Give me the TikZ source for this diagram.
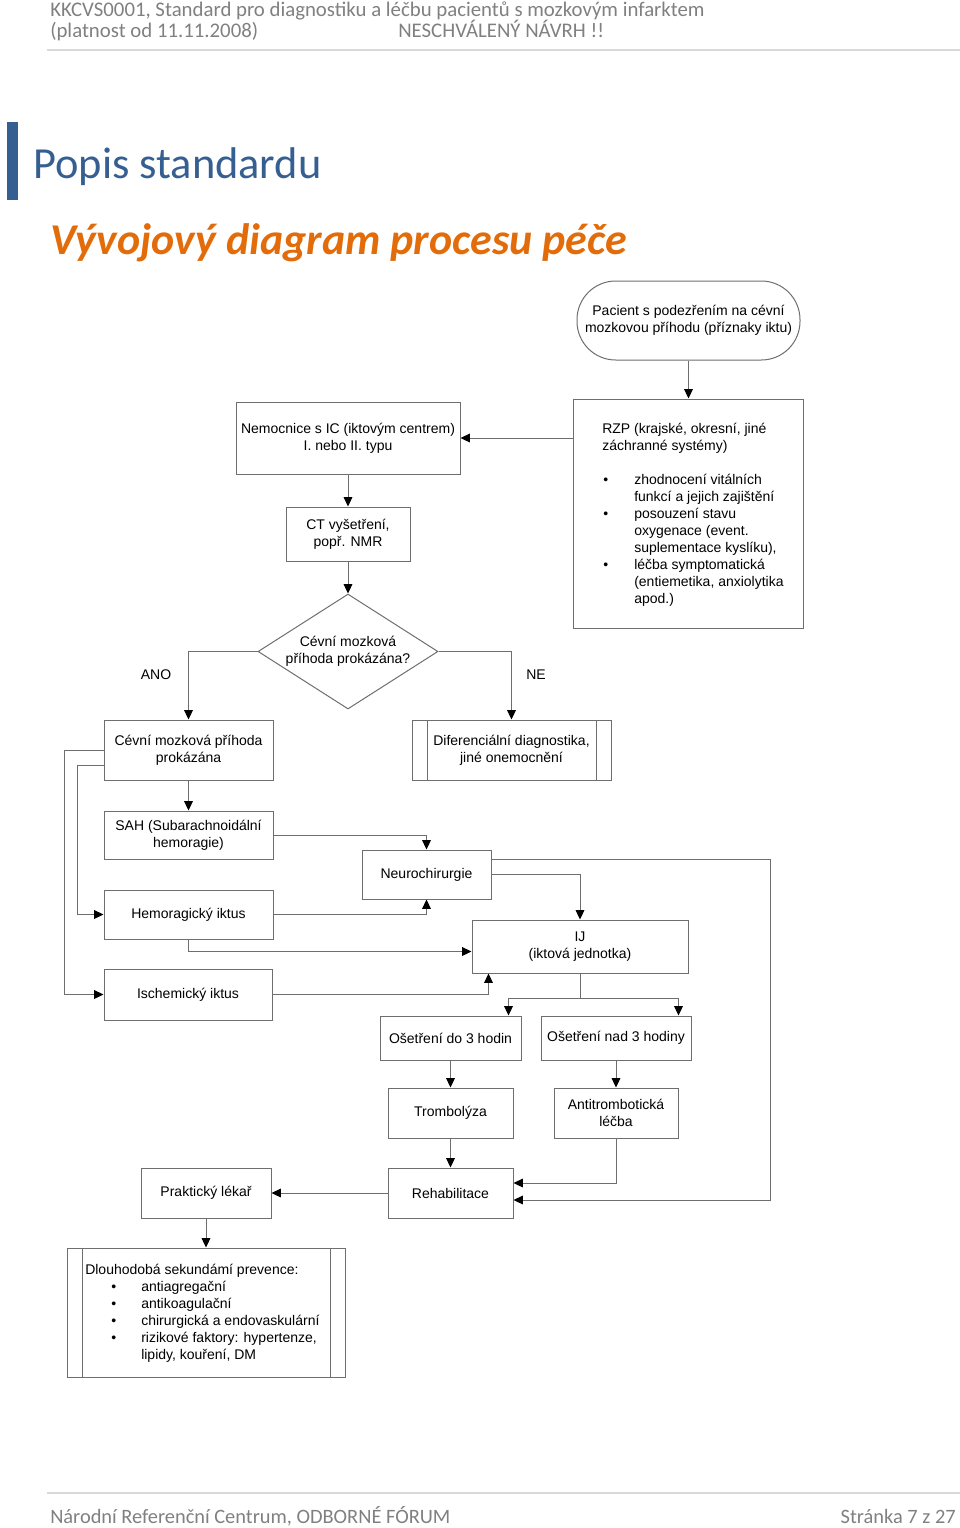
\documentclass[tikz,border=0pt]{standalone}
\usepackage{fontspec}
\setmainfont{Liberation Sans}
\newfontfamily\calibri{Carlito}
\definecolor{nrcBlue}{RGB}{54,95,145}
\definecolor{nrcOrange}{RGB}{227,108,10}
\definecolor{nrcGrey}{RGB}{128,128,128}
\definecolor{nrcRule}{RGB}{217,217,217}
\definecolor{nrcLine}{RGB}{110,110,110}
\usetikzlibrary{arrows.meta,shapes.geometric,calc}
\newcommand\diafont{\fontsize{10.5}{12.75}\selectfont}

\begin{document}
\begin{tikzpicture}[x=0.75pt, y=-0.75pt,
    box/.style={rectangle, draw=nrcLine, line width=0.75pt, font=\diafont,
                align=center, inner sep=0pt},
    sz/.style 2 args={minimum width=#1*0.75pt, minimum height=#2*0.75pt},
    term/.style={box, rounded corners=29pt},
    decision/.style={diamond, draw=nrcLine, line width=0.75pt, font=\diafont,
                     align=center, inner sep=0pt, aspect=1.56},
    subproc/.style={box, path picture={
        \draw[nrcLine, line width=0.75pt]
          ([xshift=11.25pt]path picture bounding box.north west) --
          ([xshift=11.25pt]path picture bounding box.south west)
          ([xshift=-11.25pt]path picture bounding box.north east) --
          ([xshift=-11.25pt]path picture bounding box.south east);}},
    txt/.style={font=\diafont, align=left, inner sep=0pt},
    arr/.style={draw=nrcLine, line width=0.75pt,
                -{Triangle[length=7pt,width=6.5pt,color=black]}},
    hdr/.style={font=\calibri\fontsize{15.3}{18}\selectfont, text=nrcGrey, inner sep=0pt}
  ]
  \useasboundingbox (0,0) rectangle (960,1528);

  % page header and footer
  \node[hdr, anchor=base west, font=\calibri\fontsize{15.6}{18}\selectfont] (hd1) at (50,16)
    {KKCVS0001, Standard pro diagnostiku a léčbu pacientů s mozkovým infarktem};
  \node[hdr, anchor=base west, font=\calibri\fontsize{15.6}{18}\selectfont] (hd2) at (50,37)
    {(platnost od 11.11.2008)};
  \node[hdr, anchor=base west, font=\calibri\fontsize{15.6}{18}\selectfont] (hd3) at (398,37)
    {NESCHVÁLENÝ NÁVRH !!};
  \draw[nrcRule, line width=1.5pt] (47,50) -- (960,50);
  \draw[nrcRule, line width=1.5pt] (47,1493) -- (960,1493);
  \node[hdr, anchor=base west] (ft1) at (50,1523) {Národní Referenční Centrum, ODBORNÉ FÓRUM};
  \node[hdr, anchor=base east] (ft2) at (956,1523) {Stránka 7 z 27};

  % titles
  \fill[nrcBlue] (7,122) rectangle (18,200);
  \node[anchor=base west, inner sep=0pt, text=nrcBlue,
        font=\calibri\fontsize{33.3}{40}\selectfont] (title) at (33,178) {Popis standardu};
  \node[anchor=base west, inner sep=0pt, text=nrcOrange,
        font=\calibri\bfseries\itshape\fontsize{33}{40}\selectfont] (subtitle) at (50,254)
    {Vývojový diagram procesu péče};

  % flowchart
  \node[term, sz={223}{79}]      (pac)   at (688.5,320.5) {Pacient s podezřením na cévní\\mozkovou příhodu (příznaky iktu)};
  \node[box, sz={230}{229}]      (rzp)   at (688,513.5) {};
  \node[txt, anchor=north west]  (rzph)  at (602,423) {RZP (krajské, okresní, jiné\\záchranné systémy)};
  \node[txt, anchor=north west]  (rzpl)  at (603,474)
    {\makebox[23.25pt][l]{\textbullet}zhodnocení vitálních\\
     \hspace*{23.25pt}funkcí a jejich zajištění\\
     \makebox[23.25pt][l]{\textbullet}posouzení stavu\\
     \hspace*{23.25pt}oxygenace (event.\\
     \hspace*{23.25pt}suplementace kyslíku),\\
     \makebox[23.25pt][l]{\textbullet}léčba symptomatická\\
     \hspace*{23.25pt}(entiemetika, anxiolytika\\
     \hspace*{23.25pt}apod.)};
  \node[box, sz={224}{72}]       (nem)   at (348,438) {Nemocnice s IC (iktovým centrem)\\I. nebo II. typu};
  \node[box, sz={124}{54}]       (ct)    at (348,534) {CT vyšetření,\\popř. NMR};
  \node[decision, sz={180}{115}] (dec)   at (348,651.5) {Cévní mozková\\příhoda prokázána?};
  \node[txt]                     (ano)   at (156,675) {ANO};
  \node[txt]                     (ne)    at (536,675) {NE};
  \node[box, sz={169}{60}]       (cmp)   at (188.5,750) {Cévní mozková příhoda\\prokázána};
  \node[subproc, sz={199}{60}]   (dif)   at (511.5,750) {Diferenciální diagnostika,\\jiné onemocnění};
  \node[box, sz={169}{48}]       (sah)   at (188.5,835) {SAH (Subarachnoidální\\hemoragie)};
  \node[box, sz={129}{49}]       (neu)   at (426.5,874.5) {Neurochirurgie};
  \node[box, sz={169}{49}]       (hem)   at (188.5,914.5) {Hemoragický iktus};
  \node[box, sz={216}{53}]       (ij)    at (580,946.5) {IJ\\(iktová jednotka)};
  \node[box, sz={168}{51}]       (isch)  at (188,994.5) {Ischemický iktus};
  \node[box, sz={141}{44}]       (do3)   at (450.5,1038) {Ošetření do 3 hodin};
  \node[box, sz={150}{44}]       (nad3)  at (616,1038) {Ošetření nad 3 hodiny};
  \node[box, sz={125}{50}]       (trom)  at (450.5,1113) {Trombolýza};
  \node[box, sz={124}{50}]       (anti)  at (616,1113) {Antitrombotická\\léčba};
  \node[box, sz={125}{50}]       (reh)   at (450.5,1193) {Rehabilitace};
  \node[box, sz={130}{50}]       (prak)  at (206,1193) {Praktický lékař};
  \node[subproc, sz={278}{129}]  (dlp)   at (206,1312.5) {};
  \node[txt, anchor=north west]  (dlpt)  at (85,1264)
    {Dlouhodobá sekundámí prevence:\\
     \hspace*{19.5pt}\makebox[22.5pt][l]{\textbullet}antiagregační\\
     \hspace*{19.5pt}\makebox[22.5pt][l]{\textbullet}antikoagulační\\
     \hspace*{19.5pt}\makebox[22.5pt][l]{\textbullet}chirurgická a endovaskulární\\
     \hspace*{19.5pt}\makebox[22.5pt][l]{\textbullet}rizikové faktory: hypertenze,\\
     \hspace*{42pt}lipidy, kouření, DM};

  \draw[arr] (pac.south) -- (pac.south |- rzp.north);
  \draw[arr] (rzp.west |- nem.east) -- (nem.east);
  \draw[arr] (nem.south) -- (ct.north);
  \draw[arr] (ct.south) -- (dec.north);
  \draw[arr] (dec.west) -| (cmp.north);
  \draw[arr] (dec.east) -| (dif.north);
  \draw[arr] (cmp.south) -- (sah.north);
  \draw[arr] (cmp.west) -- ++(-39,0) |- (isch.west);
  \draw[arr] (cmp.west) ++(0,15) -- ++(-26,0) |- (hem.west);
  \draw[arr] (sah.east) -| (neu.north);
  \draw[arr] (hem.east) -| (neu.south);
  \draw[arr] (hem.south) |- ([yshift=-3.75pt]ij.west);
  \draw[arr] (isch.east) -| ([xshift=12.75pt]ij.south west);
  \draw[arr] (neu.east) -| (ij.north);
  \draw[arr] (neu.east) ++(0,-15) -- ++(279,0) |- ([yshift=-5.25pt]reh.east);
  \draw[nrcLine, line width=0.75pt] (ij.south) -- ++(0,25) coordinate (fork);
  \draw[arr] (fork) -| ([xshift=-9.75pt]do3.north east);
  \draw[arr] (fork) -| ([xshift=-9.75pt]nad3.north east);
  \draw[arr] (do3.south) -- (trom.north);
  \draw[arr] (nad3.south) -- (anti.north);
  \draw[arr] (trom.south) -- (reh.north);
  \draw[arr] (anti.south) |- ([yshift=7.5pt]reh.east);
  \draw[arr] (reh.west) -- (prak.east);
  \draw[arr] (prak.south) -- (dlp.north);
\end{tikzpicture}
\end{document}
